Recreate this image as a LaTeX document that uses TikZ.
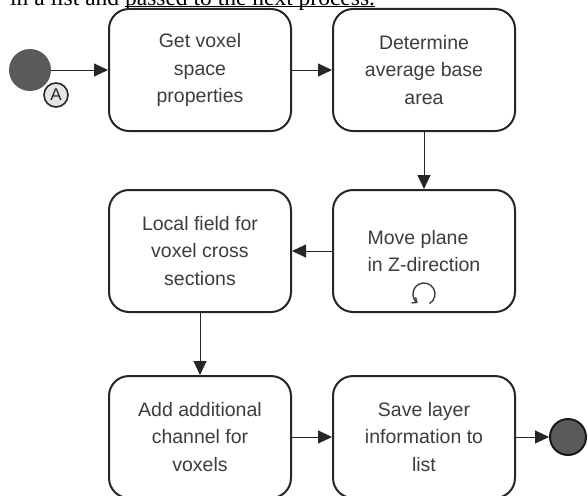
\documentclass[tikz,border=0pt]{standalone}
\usepackage{fontspec}
\setmainfont{Liberation Serif}
\newfontfamily\boxfont{Liberation Sans}
\usetikzlibrary{positioning,arrows.meta}

\definecolor{evgray}{HTML}{5A5A5A}
\definecolor{txtgray}{HTML}{3C3C3C}
\definecolor{linegray}{HTML}{262626}

\tikzset{
    task/.style={draw=linegray, line width=2pt, rounded corners=20pt,
        minimum width=182pt, minimum height=122pt, align=center, text=txtgray,
        font=\boxfont\fontsize{19.5}{27.5}\selectfont, inner sep=2pt},
    flow/.style={draw=linegray, line width=1pt, -{Triangle[length=14pt,width=13pt]}},
    startev/.style={circle, fill=evgray, minimum size=42pt, inner sep=0pt},
    endev/.style={circle, fill=evgray, draw=black!90, line width=2pt,
        minimum size=36pt, inner sep=0pt},
    letterev/.style={circle, draw=black!85, fill=gray!20, line width=1.6pt,
        minimum size=24pt, inner sep=0pt, text=black!85,
        font=\boxfont\fontsize{17}{17}\selectfont}
}

\begin{document}
\begin{tikzpicture}[x=1pt,y=1pt]
        % Размеры рисунка
        \useasboundingbox (0,0) rectangle (588,-495);
        \def\colgap{40pt}

        % Обрезанный текст сверху
        \node[anchor=base west, inner sep=0pt, font=\fontsize{23.5}{23.5}\selectfont] (caption) at (10,-5.5)
            {in a list and passed to the next process.};
        \draw[line width=0.9pt] (125,-6.5) -- (375,-6.5);

        % Начальное событие
        \node[startev] (start) at (30,-70) {};
        \node[letterev] (linkA) at (56,-95) {A};

        % Задачи
        \node[task] (props) at (200,-70) {Get voxel\\space\\properties};
        \node[task, right=\colgap of props] (base) {Determine\\average base\\area};
        \node[task, align=left, below=57pt of base] (move) {Move plane\\in Z-direction};
        \node[task, below=57pt of props] (field) {Local field for\\voxel cross\\sections};
        \node[task, below=62pt of field] (channel) {Add additional\\channel for\\voxels};
        \node[task, right=\colgap of channel] (save) {Save layer\\information to\\list};

        % Конечное событие
        \node[endev, right=33pt of save] (finish) {};

        % Маркер цикла
        \coordinate (loop) at ([yshift=19pt]move.south);
        \draw[draw=txtgray, line width=1.4pt, -{Straight Barb[length=4pt,width=7pt]}]
            ([shift={(-60:11pt)}]loop) arc[start angle=-60, end angle=235, radius=11pt];

        % Поток
        \draw[flow] (start) -- (props);
        \draw[flow] (props) -- (base);
        \draw[flow] (base) -- (move);
        \draw[flow] (move) -- (field);
        \draw[flow] (field) -- (channel);
        \draw[flow] (channel) -- (save);
        \draw[flow] (save) -- (finish);
\end{tikzpicture}
\end{document}
